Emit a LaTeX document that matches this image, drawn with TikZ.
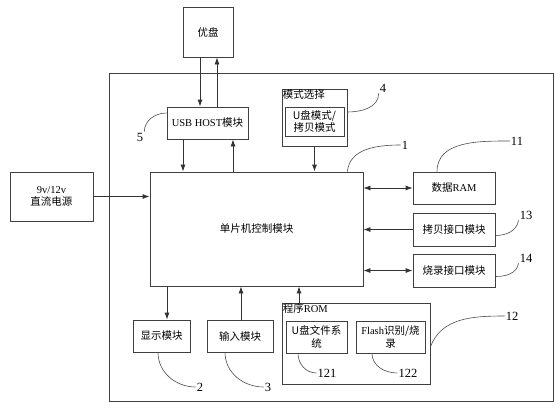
\documentclass[tikz,border=0pt]{standalone}
\usepackage{fontspec}
\setmainfont{Liberation Serif}
\newfontfamily\cjk{Noto Sans CJK SC}
\usepackage{tikz}
\usetikzlibrary{arrows.meta}

\begin{document}
\begin{tikzpicture}[
  x=1pt, y=-1pt,
  box/.style={draw=black!75, line width=0.8pt, inner sep=1pt, align=center, font=\fontsize{10.5}{12.5}\selectfont},
  cbox/.style={box, font=\fontsize{10.5}{12.5}\selectfont\cjk},
  arr/.style={-{Latex[length=7pt,width=5pt]}, line width=0.8pt, black!80},
  dbl/.style={{Latex[length=7pt,width=5pt]}-{Latex[length=7pt,width=5pt]}, line width=0.8pt, black!80},
  lead/.style={line width=0.6pt, black!70},
  num/.style={inner sep=1pt, font=\fontsize{12.5}{13}\selectfont}
]
  \useasboundingbox (0,0) rectangle (560,408);

  \node[draw=black!75, line width=0.8pt, minimum width=444pt, minimum height=328pt] (frame) at (331,237) {};

  \node[cbox, minimum width=50pt, minimum height=50pt] (udisk) at (208,32) {优盘};
  \node[box, minimum width=81pt, minimum height=32pt] (usb) at (207.5,123) {USB HOST{\cjk 模块}};
  \node[box, minimum width=65pt, minimum height=57pt] (mode) at (314.5,117.5) {};
  \node[anchor=north west, inner sep=1pt, font=\fontsize{10.5}{12}\selectfont\cjk] (modelbl) at (mode.north west) {模式选择};
  \node[cbox, minimum width=59pt, minimum height=29pt] (modein) at (314.5,121.5) {U盘模式/\\拷贝模式};

  \node[cbox, minimum width=213pt, minimum height=114pt] (mcu) at (256.5,229) {单片机控制模块};
  \node[box, minimum width=83pt, minimum height=49pt] (power) at (51.5,196.5) {9v/12v\\{\cjk 直流电源}};

  \node[box, minimum width=82pt, minimum height=32pt] (ram) at (454,188) {{\cjk 数据}RAM};
  \node[cbox, minimum width=82pt, minimum height=33pt] (copy) at (454,229.5) {拷贝接口模块};
  \node[cbox, minimum width=82pt, minimum height=33pt] (burn) at (454,270.5) {烧录接口模块};

  \node[cbox, minimum width=57pt, minimum height=32pt] (disp) at (161.5,336) {显示模块};
  \node[cbox, minimum width=66pt, minimum height=32pt] (input) at (240,336) {输入模块};
  \node[box, minimum width=148pt, minimum height=81pt] (rom) at (356,343.5) {};
  \node[anchor=north west, inner sep=1pt, font=\fontsize{10.5}{12}\selectfont] (romlbl) at (rom.north west) {{\cjk 程序}ROM};
  \node[cbox, minimum width=61pt, minimum height=32pt] (fs) at (316.5,337) {U盘文件系\\统};
  \node[box, minimum width=69pt, minimum height=32pt] (flash) at (390.5,337) {Flash{\cjk 识别/烧}\\{\cjk 录}};

  % connections
  \draw[arr] ([xshift=-8pt]udisk.south) -- ([xshift=-8pt]udisk.south |- usb.north);
  \draw[arr] ([xshift=9pt]udisk.south |- usb.north) -- ([xshift=9pt]udisk.south);
  \draw[arr] ([xshift=-24.5pt]usb.south) -- ([xshift=-24.5pt]usb.south |- mcu.north);
  \draw[arr] ([xshift=25.5pt]usb.south |- mcu.north) -- ([xshift=25.5pt]usb.south);
  \draw[arr] (mode.south) -- (mode.south |- mcu.north);
  \draw[arr] (power.east) -- (power.east -| mcu.west);
  \draw[dbl] (ram.west) -- (ram.west -| mcu.east);
  \draw[arr] (copy.west) -- (copy.west -| mcu.east);
  \draw[dbl] (burn.west) -- (burn.west -| mcu.east);
  \draw[arr] ([xshift=5.5pt]disp.north |- mcu.south) -- ([xshift=5.5pt]disp.north);
  \draw[arr] ([xshift=1pt]input.north) -- ([xshift=1pt]input.north |- mcu.south);
  \draw[arr] ([xshift=-57pt]rom.north) -- ([xshift=-57pt]rom.north |- mcu.south);

  % reference numbers
  \node[num] (n1) at (405,145) {1};
  \node[num] (n11) at (517,141) {11};
  \node[num] (n13) at (526,215) {13};
  \node[num] (n14) at (526,258) {14};
  \node[num] (n4) at (383,88) {4};
  \node[num] (n5) at (140,137) {5};
  \node[num] (n2) at (200,387) {2};
  \node[num] (n3) at (268,387) {3};
  \node[num] (n121) at (327,373) {121};
  \node[num] (n122) at (408,373) {122};
  \node[num] (n12) at (512,316) {12};

  \draw[lead] ([xshift=-16pt]mcu.north east) to[out=85, in=180] (n1.west);
  \draw[lead] ([xshift=-17pt]ram.north) to[out=90, in=180] (n11.west);
  \draw[lead] ([yshift=-6pt]copy.east) to[out=0, in=-100] (n13.south west);
  \draw[lead] ([yshift=-6pt]burn.east) to[out=0, in=-100] (n14.south west);
  \draw[lead] ([yshift=5.5pt]mode.east) to[out=0, in=-90] (n4.south west);
  \draw[lead] ([yshift=10pt]usb.west) to[out=180, in=90] (n5.north east);
  \draw[lead] ([xshift=-3.5pt]disp.south) to[out=-90, in=180] (n2.west);
  \draw[lead] ([xshift=-15pt]input.south) to[out=-90, in=180] (n3.west);
  \draw[lead] ([xshift=-18.5pt]fs.south) to[out=-90, in=180] (n121.west);
  \draw[lead] ([xshift=-18.5pt]flash.south) to[out=-90, in=180] (n122.west);
  \draw[lead] ([yshift=-3.5pt]rom.east) to[out=70, in=180] (n12.west);
\end{tikzpicture}
\end{document}
